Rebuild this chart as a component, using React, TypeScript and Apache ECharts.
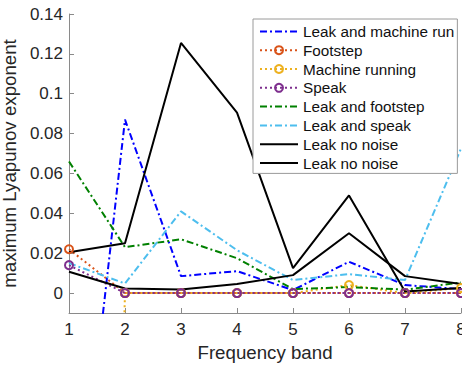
import React, { useEffect, useRef } from "react";
import * as echarts from "echarts";

const bands = [1, 2, 3, 4, 5, 6, 7, 8];
const leakMachineRun = [-0.16, 0.087, 0.0085, 0.011, 0.0015, 0.0157, 0.004, 0.002];
const footstep = [0.022, 0, 0, 0, 0, 0, 0, 0];
const machineRunning = [-1, 0, 0, 0, 0, 0.004, 0, 0.0025];
const speak = [0.014, 0, 0, 0, 0, 0, 0, 0];
const leakFootstep = [0.066, 0.023, 0.027, 0.0175, 0.002, 0.003, 0.0017, 0.0053];
const leakSpeak = [0.015, 0.0048, 0.041, 0.0215, 0.0065, 0.0095, 0.0065, 0.0725];
const leakNoNoiseA = [0.0205, 0.025, 0.1255, 0.0905, 0.0125, 0.049, 0.0008, 0.0025];
const leakNoNoiseB = [0.0107, 0.0023, 0.0018, 0.0045, 0.009, 0.03, 0.0085, 0.0045];
const yTicks = [0, 0.02, 0.04, 0.06, 0.08, 0.1, 0.12, 0.14];
const xTicks = [1, 2, 3, 4, 5, 6, 7, 8];
const seriesNames = [
  "Leak and machine run",
  "Footstep",
  "Machine running",
  "Speak",
  "Leak and footstep",
  "Leak and speak",
  "Leak no noise",
  "Leak no noise ",
];

const FONT = "'Liberation Sans', Arial, Helvetica, sans-serif";
const DASHDOT = [7, 3, 2, 3];
const DOT = [2, 3];

function pairs(vals: number[]) {
  return vals.map((v, i) => [bands[i], v]);
}

function lineSeries(name: string, vals: number[], color: string, type: any, marker: boolean) {
  return {
    name,
    type: "line",
    data: pairs(vals),
    color,
    symbol: marker ? "circle" : "none",
    symbolSize: 8,
    showSymbol: marker,
    clip: true,
    lineStyle: { color, width: 2, type },
    itemStyle: { color: "transparent", borderColor: color, borderWidth: 2 },
    emphasis: { disabled: true },
  };
}

const markerFlags = [false, true, true, true, false, false, false, false];

export default function App() {
  const ref = useRef<HTMLDivElement>(null);
  useEffect(() => {
    if (!ref.current) return;
    const chart = echarts.init(ref.current, undefined, { renderer: "svg" });
    chart.setOption({
      animation: false,
      backgroundColor: "#ffffff",
      textStyle: { fontFamily: FONT },
      grid: { left: 69, right: 1, top: 14, bottom: 52, containLabel: false, outerBoundsMode: "none" },
      legend: {
        orient: "vertical",
        left: 253,
        top: 19,
        padding: [3, 3, 1, 6],
        itemGap: 0,
        itemWidth: 38,
        itemHeight: 10,
        backgroundColor: "#ffffff",
        borderColor: "#9a9a9a",
        borderWidth: 1,
        selectedMode: false,
        data: seriesNames.map((n, i) =>
          markerFlags[i] ? { name: n } : { name: n, itemStyle: { opacity: 0 } }
        ),
        textStyle: { fontFamily: FONT, fontSize: 15.3, color: "#111", lineHeight: 18.8 },
      },
      xAxis: {
        type: "value",
        min: 1,
        max: 8,
        interval: 1,
        name: "Frequency band",
        nameLocation: "middle",
        nameGap: 29,
        nameTextStyle: { fontFamily: FONT, fontSize: 18.7, color: "#262626" },
        axisLine: { onZero: false, lineStyle: { color: "#8a8a8a", width: 1 } },
        axisTick: { inside: true, length: 5, lineStyle: { color: "#8a8a8a" }, customValues: xTicks },
        axisLabel: { fontFamily: FONT, fontSize: 17, color: "#262626", margin: 8, customValues: xTicks, hideOverlap: false },
        splitLine: { show: false },
      },
      yAxis: {
        type: "value",
        min: -0.01,
        max: 0.14,
        name: "maximum Lyapunov exponent",
        nameLocation: "middle",
        nameRotate: 90,
        nameGap: 37,
        nameTextStyle: { fontFamily: FONT, fontSize: 18.7, color: "#262626" },
        axisLine: { show: true, lineStyle: { color: "#8a8a8a", width: 1 } },
        axisTick: { show: true, inside: true, length: 5, lineStyle: { color: "#8a8a8a" }, customValues: yTicks },
        axisLabel: { fontFamily: FONT, fontSize: 17, color: "#262626", margin: 6, customValues: yTicks },
        splitLine: { show: false },
      },
      series: [
        lineSeries(seriesNames[0], leakMachineRun, "#0000FF", DASHDOT, false),
        lineSeries(seriesNames[1], footstep, "#D95319", DOT, true),
        lineSeries(seriesNames[2], machineRunning, "#EDB120", DOT, true),
        lineSeries(seriesNames[3], speak, "#7E2F8E", DOT, true),
        lineSeries(seriesNames[4], leakFootstep, "#008000", DASHDOT, false),
        lineSeries(seriesNames[5], leakSpeak, "#4DBEEE", DASHDOT, false),
        lineSeries(seriesNames[6], leakNoNoiseA, "#000000", "solid", false),
        lineSeries(seriesNames[7], leakNoNoiseB, "#000000", "solid", false),
      ],
    });
    return () => chart.dispose();
  }, []);
  return <div ref={ref} style={{ width: 462, height: 365, position: "absolute", left: 0, top: 0 }} />;
}
